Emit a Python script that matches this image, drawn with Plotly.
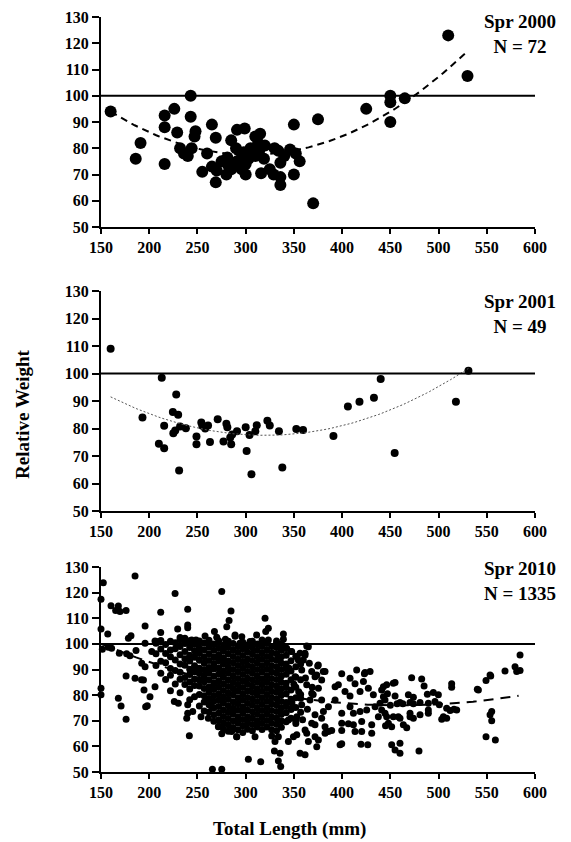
import numpy as np
import plotly.graph_objects as go

FONT = "Times New Roman, Liberation Serif, serif"

# ---------------- Spr 2000 (N = 72) ----------------
tl_2000 = [160, 216, 226, 243, 243, 265, 291, 299, 315, 350, 375, 425, 450, 450, 450, 465, 510, 530,
           216, 191, 186, 216, 229, 232, 236, 240, 247, 248, 244, 255, 269, 265, 270, 269, 280, 281,
           285, 281, 292, 294, 296, 298, 303, 296, 291, 310, 313, 314, 316, 319, 330, 329, 334, 336,
           336, 336, 346, 350, 352, 356, 370, 285, 300, 305, 275, 260, 300, 310, 325, 290, 340, 320]
wr_2000 = [94, 92.5, 95, 100, 92, 89, 87, 87.5, 85.5, 89, 91, 95, 100, 97.5, 90, 99, 123, 107.5,
           88, 82, 76, 74, 86, 80, 78, 77, 84.5, 86.5, 80, 71, 84, 73, 71.5, 67, 70, 76.5,
           83, 74, 74.5, 73, 76.5, 78.5, 76, 72, 75, 84.5, 82, 79, 70.5, 76, 80, 70, 79, 74.5,
           69, 66, 79.5, 70, 78, 75, 59, 72, 74, 80, 75, 78, 70, 77, 72, 80, 77, 81]
trend_2000 = dict(a=0.00078, h=305, k=77.5, x0=160, x1=530)

# ---------------- Spr 2001 (N = 49) ----------------
tl_2001 = [160, 213, 228, 440, 531, 406, 418, 433, 518, 193, 210, 215.5, 215.5, 224.5, 230, 225, 227,
           232, 238, 231, 249, 249, 254, 255, 261, 263, 271, 277, 280, 281, 284, 286, 285, 300, 301,
           304, 306, 310, 311.5, 322.5, 325, 334.5, 338, 352.5, 359.5, 391, 454.5, 291, 258]
wr_2001 = [109, 98.5, 92.4, 98, 101, 88, 89.7, 91.2, 89.7, 84, 74.5, 72.8, 81, 86, 85, 78.3, 79.3,
           80.7, 80.1, 64.7, 77.1, 74.3, 82.2, 81, 81.1, 75.1, 83.4, 75.3, 81.7, 80.5, 76.7, 77.8, 74.3,
           80.5, 71.8, 77.6, 63.4, 79, 81.2, 82.8, 81.1, 79, 65.8, 79.8, 79.5, 77.3, 71.1, 79, 80]
trend_2001 = dict(a=0.000547, h=320, k=77.5, x0=160, x1=531)

# ---------------- Spr 2010 (N = 1335) ----------------
# scattered fish read individually
tl_2010_a = [152.4, 185.3, 150, 226.8, 275.2, 160.4, 168, 165.2, 169.7, 176, 211.9, 239.9, 284.8, 282.8,
             280.4, 150, 157, 178.4, 181.1, 195.7, 211.9, 229.5, 239.9, 239.9, 267.6, 257.9, 248.5, 151.4,
             157.6, 161, 169, 176.6, 180, 186.3, 150, 150, 176, 185.3, 192, 194, 168, 170.8, 176, 196.3,
             198, 200.8, 194.6, 206, 192.2, 195.7, 202.6, 195.7, 206, 209.5, 241.6, 265.5, 275.2, 226,
             230.2, 239.9, 239.9, 245.1, 238.9, 253.7, 261.3, 271.7, 275.2, 285.5, 290.7, 264.8, 232, 237,
             244, 270, 279, 289, 296]
wr_2010_a = [123.9, 126.5, 117.4, 119.7, 120.4, 114.9, 114.8, 113, 112.6, 113, 112.3, 113.5, 112.8, 109.1,
             106.7, 105.8, 103.9, 102.2, 103.2, 107, 104.4, 105.8, 107.4, 106.3, 104.8, 103.1, 101.5, 97.9,
             98.7, 98.3, 96.3, 96.1, 95.4, 97.4, 82.7, 80.1, 87.5, 86.6, 86, 85.9, 78.8, 75.8, 70.6, 75.5,
             75.9, 79.4, 82, 83.3, 92.4, 91.1, 97, 100.2, 101.1, 100.9, 64.1, 51.1, 51.1, 77.5,
             76.8, 76.2, 72.9, 73.6, 71, 71.6, 71, 67.7, 64.9, 65.8, 63.8, 75.5, 102.5, 102.2,
             101.5, 102.6, 101.8, 103.5, 102.8]
tl_2010_b = [320.1, 323.5, 320.8, 311.4, 339.1, 339.1, 363.3, 361.6, 359.8, 374.7, 382.3, 399.6, 415.1, 408.2,
             423.1, 429, 422.1, 427.2, 442.8, 392.7, 396.1, 403, 408.2, 413.4, 418.6, 432.4, 392.7, 399.6,
             408.2, 411.7, 418.6, 425.5, 434.2, 437.6, 399.6, 406.5, 411.7, 420.3, 430.7, 399.6, 413.4, 420.3,
             430.7, 397.9, 399.6, 419.6, 426.6, 378.8, 382.3, 371.9, 375.4, 373.7, 382.3, 385.8, 389.2, 365,
             356.4, 361.6, 368.5, 371.9, 361.6, 363.3, 344.3, 349.5, 353, 333.9, 330.4, 329.8, 335.6, 333.9,
             336.3, 302.8, 315.6, 309.7, 290.7, 353, 347.7, 344.3, 358.1, 366.7, 378.8, 385.8, 380.6, 371.9,
             375.4, 368.5, 363.3, 354.6, 358.1, 368.5, 371.9, 351.2, 378.8, 365, 361.5, 375.3, 380.5, 373.7,
             423.8, 289, 294, 299.3, 304.5, 323.5, 332, 337.4, 342.5, 347.7, 353, 356.4,
             345, 350, 355, 362, 366, 370, 348, 357, 364, 369, 352, 359]
wr_2010_b = [110, 106.1, 104.8, 103.5, 103.9, 101.8, 99.2, 95.7, 93.7, 91.4, 89.2, 88.3, 89.8, 86.6,
             88.3, 89.2, 85.3, 82.7, 83.3, 83.3, 84, 81.4, 79.7, 84.4, 81.4, 80.1, 78.1, 72.9,
             75.5, 72.9, 73.6, 74.2, 75.5, 71.6, 69, 68.8, 68.4, 69.7, 68.4, 66.2, 65.8, 65.8,
             65.1, 60.6, 61, 60.8, 60.6, 71, 67.7, 63.8, 62.5, 59.9, 65.1, 65.8, 66.2, 61.9,
             57.3, 56.7, 69, 68.4, 66.4, 65.1, 61.9, 63.8, 64.5, 63.8, 61.9, 58.2, 57.3, 54.3,
             52.1, 55, 54, 63.8, 63.8, 71.6, 74.9, 70.3, 76.2, 78.1, 78.1, 75.5, 73.6, 72.3,
             82.7, 80.7, 84, 93.7, 89.8, 89.2, 87.2, 87.2, 85.9, 98.9, 96.3, 91.8, 89.2, 87.9,
             88.8, 103, 100.2, 99.6, 100.9, 101.5, 100.2, 99.6, 98.3, 97, 95, 96.3,
             90.5, 84.2, 81.3, 86.7, 92.4, 80.2, 76.9, 78.8, 74.5, 83.1, 68.9, 70.4]
tl_2010_c = [584.5, 579.3, 581, 568.9, 584.5, 553.4, 549.2, 554.1, 540.2, 541.3, 513.6, 513.6, 472.1, 482.5,
             485, 454.9, 446.2, 453.1, 442.8, 454.9, 468.7, 473.9, 460, 457, 463, 470.4, 473.9, 480.8,
             488.4, 494.6, 499.8, 489.4, 496.3, 500.8, 508.4, 518.8, 512, 516, 505, 508.4, 503.3, 489.4,
             489.4, 480.8, 470.4, 470.4, 473.9, 453.1, 458.3, 460, 446.2, 448, 451.4, 463.5, 467, 441,
             444.5, 451.4, 454.9, 460, 460, 479.7, 555.1, 553.4, 555.1, 549.2, 558.9, 444.5, 439.3, 441,
             447, 450, 445]
wr_2010_c = [95.7, 91.1, 89.2, 89.4, 89.6, 87.9, 85.7, 87.5, 82.3, 82, 84.4, 83.1, 86.8, 86.3,
             83.6, 84.9, 84, 84.6, 79.4, 79.7, 80.1, 79.2, 77.1, 76.6, 76.6, 77.1, 76.6, 77.1,
             80.3, 81, 80.1, 76.8, 77.5, 76.2, 74.9, 74.2, 74, 74.5, 71.6, 71, 70.6, 72.9,
             74.2, 72.3, 72.9, 71.6, 71, 71.6, 71.6, 71, 71.6, 69, 67.7, 68.4, 67.3, 74.2,
             72.9, 60.6, 58.6, 61.2, 57.3, 58.2, 73.6, 72.3, 70, 63.8, 62.5, 78.1, 76.8, 82,
             80.5, 76, 68]
# the dense core of the cloud, read column by column (length, then weights)
core_tl = [207, 212, 217, 222, 227, 232, 237, 242, 247, 252, 257, 262, 267, 272, 277, 282, 287, 292,
           297, 302, 307, 312, 317, 322, 327, 332, 337, 342, 347, 352, 357]
core_wr = [
    [100.2, 96.1, 91.6],
    [101.3, 98.0, 93.2, 88.5],
    [99.8, 96.2, 92.6, 86.1],
    [101.0, 97.6, 95.0, 90.4, 87.8, 81.7],
    [100.4, 98.1, 93.7, 89.6, 84.3],
    [101.6, 99.0, 95.8, 92.1, 88.9, 86.2, 80.9],
    [100.1, 97.0, 94.2, 91.7, 86.9, 84.1],
    [101.2, 98.6, 95.6, 93.3, 90.1, 88.0, 85.1, 82.4, 78.2],
    [99.9, 97.3, 94.8, 91.5, 89.1, 86.3, 83.8, 79.4],
    [101.1, 98.5, 96.2, 93.6, 90.5, 88.4, 85.9, 83.6, 80.2, 75.8],
    [100.3, 97.7, 95.0, 92.4, 89.9, 87.6, 85.2, 82.6, 79.8, 77.3, 73.8],
    [101.4, 98.8, 96.1, 93.5, 90.8, 88.6, 86.0, 83.3, 81.0, 78.6, 76.2, 73.4],
    [100.0, 97.5, 94.9, 92.3, 90.2, 87.4, 84.7, 82.4, 79.9, 77.6, 75.1, 72.3, 69.8],
    [101.2, 98.3, 95.8, 93.4, 90.7, 88.2, 85.6, 83.1, 80.5, 78.1, 75.6, 73.0, 70.4, 67.9],
    [99.6, 97.1, 94.5, 92.0, 89.4, 87.0, 84.4, 81.8, 79.3, 76.8, 74.2, 71.7, 69.2, 66.8],
    [101.0, 98.6, 96.0, 93.3, 90.9, 88.5, 85.9, 83.4, 80.8, 78.4, 75.9, 73.3, 70.9, 68.4, 65.9],
    [100.1, 97.6, 95.1, 92.6, 90.0, 87.5, 85.0, 82.5, 80.1, 77.4, 74.9, 72.6, 70.0, 67.4],
    [99.0, 96.6, 94.0, 91.6, 89.1, 86.5, 84.1, 81.6, 79.0, 76.6, 74.1, 71.5, 69.1, 66.5],
    [100.6, 98.1, 95.5, 93.0, 90.5, 88.0, 85.5, 83.0, 80.4, 78.0, 75.4, 73.0, 70.5, 68.0, 65.4],
    [99.2, 96.7, 94.1, 91.7, 89.2, 86.6, 84.2, 81.7, 79.1, 76.7, 74.2, 71.6, 69.2, 66.7],
    [101.0, 98.5, 96.0, 93.5, 91.0, 88.5, 86.0, 83.5, 81.0, 78.5, 76.0, 73.5, 71.0, 68.5, 66.1],
    [100.0, 97.5, 95.0, 92.5, 90.0, 87.5, 85.0, 82.5, 80.0, 77.5, 75.0, 72.5, 70.0, 67.6],
    [101.5, 99.0, 96.4, 94.0, 91.5, 89.0, 86.4, 84.0, 81.5, 79.0, 76.4, 74.0, 71.5, 69.0, 66.6],
    [100.1, 97.6, 95.1, 92.6, 90.1, 87.6, 85.1, 82.6, 80.1, 77.6, 75.1, 72.6, 70.1, 67.6],
    [99.0, 96.5, 94.0, 91.5, 89.0, 86.5, 84.0, 81.5, 79.0, 76.5, 74.0, 71.5, 69.0, 66.5, 64.0],
    [101.1, 98.6, 96.1, 93.6, 91.1, 88.6, 86.1, 83.6, 81.1, 78.6, 76.1, 73.6, 71.1, 68.6, 66.1],
    [100.0, 97.5, 95.0, 92.5, 90.0, 87.5, 85.0, 82.5, 80.0, 77.5, 75.0, 72.5, 70.0, 67.5],
    [98.2, 95.6, 92.1, 90.6, 88.1, 84.6, 83.1, 80.6, 77.1, 75.6, 73.1, 69.6],
    [97.0, 93.4, 89.4, 86.0, 82.0, 78.4, 74.4, 71.0],
    [95.2, 91.1, 87.0, 83.1, 79.0, 75.2, 70.0],
    [92.1, 86.0, 80.2, 73.3],
]
trend_2010 = dict(a=0.00025, h=460, k=76, x0=150, x1=583)

ref_wr = 100
x_ticks = [150, 200, 250, 300, 350, 400, 450, 500, 550, 600]
y_ticks = [50, 60, 70, 80, 90, 100, 110, 120, 130]
labels = ["Spr 2000<br>N = 72", "Spr 2001<br>N = 49", "Spr 2010<br>N = 1335"]

# build the 2010 table
tl_2010 = list(tl_2010_a) + list(tl_2010_b) + list(tl_2010_c)
wr_2010 = list(wr_2010_a) + list(wr_2010_b) + list(wr_2010_c)
for xv, ys in zip(core_tl, core_wr):
    tl_2010 += [xv] * len(ys)
    wr_2010 += ys

# the page body has an 8px margin: lay out in page pixels, convert to figure pixels
OFF = 8
W, H = 571 - OFF, 842 - OFF
px_l, px_r = 101 - OFF, 535 - OFF
panel_px = [(17 - OFF, 227 - OFF), (291 - OFF, 511 - OFF), (567 - OFF, 772 - OFF)]
label_py = [34 - OFF, 314 - OFF, 581 - OFF]

panels = [
    (tl_2000, wr_2000, trend_2000, 12, dict(color="black", width=2, dash="7px,5px")),
    (tl_2001, wr_2001, trend_2001, 8, dict(color="#555555", width=1, dash="2px,2px")),
    (tl_2010, wr_2010, trend_2010, 7, dict(color="black", width=2, dash="10px,7px")),
]

fig = go.Figure()
tickfont = dict(family=FONT, size=16, color="black", weight="bold")
for i, (xs, ys, tr, msize, lstyle) in enumerate(panels):
    sfx = "" if i == 0 else str(i + 1)
    xa, ya = "x" + sfx, "y" + sfx
    fig.add_trace(go.Scatter(x=xs, y=ys, mode="markers", xaxis=xa, yaxis=ya,
                             marker=dict(color="black", size=msize, line=dict(width=0)),
                             cliponaxis=False, showlegend=False, hoverinfo="skip"))
    tx = np.linspace(tr["x0"], tr["x1"], 120)
    fig.add_trace(go.Scatter(x=tx, y=tr["a"] * (tx - tr["h"]) ** 2 + tr["k"], mode="lines",
                             xaxis=xa, yaxis=ya, line=lstyle, showlegend=False, hoverinfo="skip"))
    fig.add_trace(go.Scatter(x=[x_ticks[0], x_ticks[-1]], y=[ref_wr, ref_wr], mode="lines",
                             xaxis=xa, yaxis=ya, line=dict(color="black", width=2),
                             showlegend=False, hoverinfo="skip"))
    top, bot = panel_px[i]
    common = dict(showgrid=False, zeroline=False, showline=True, linecolor="black", linewidth=2,
                  ticks="outside", tickcolor="black", tickwidth=2, tickfont=tickfont,
                  automargin=False, ticklabeloverflow="allow")
    fig.layout["xaxis" + sfx] = dict(domain=[px_l / W, px_r / W], range=[150, 600], tickvals=x_ticks,
                                     ticklen=5, anchor=ya, **common)
    fig.layout["yaxis" + sfx] = dict(domain=[1 - bot / H, 1 - top / H], range=[50, 130], tickvals=y_ticks,
                                     ticklen=7, anchor=xa, **common)
    fig.add_annotation(text="<b>" + labels[i] + "</b>", xref="paper", yref="paper",
                       x=(520 - OFF) / W, y=1 - label_py[i] / H, xanchor="center", yanchor="middle",
                       showarrow=False, font=dict(family=FONT, size=19, color="black"))

fig.add_annotation(text="<b>Relative Weight</b>", xref="paper", yref="paper", x=(22 - OFF) / W,
                   y=1 - (414 - OFF) / H, textangle=-90, showarrow=False, xanchor="center", yanchor="middle",
                   font=dict(family=FONT, size=19, color="black"))
fig.add_annotation(text="<b>Total Length (mm)</b>", xref="paper", yref="paper", x=(289 - OFF) / W,
                   y=1 - (829 - OFF) / H, showarrow=False, xanchor="center", yanchor="middle",
                   font=dict(family=FONT, size=19, color="black"))

fig.update_layout(width=W, height=H, margin=dict(l=0, r=0, t=0, b=0, pad=0), autosize=False,
                  paper_bgcolor="white", plot_bgcolor="white")
fig.write_html("out.html", config={"responsive": False})
